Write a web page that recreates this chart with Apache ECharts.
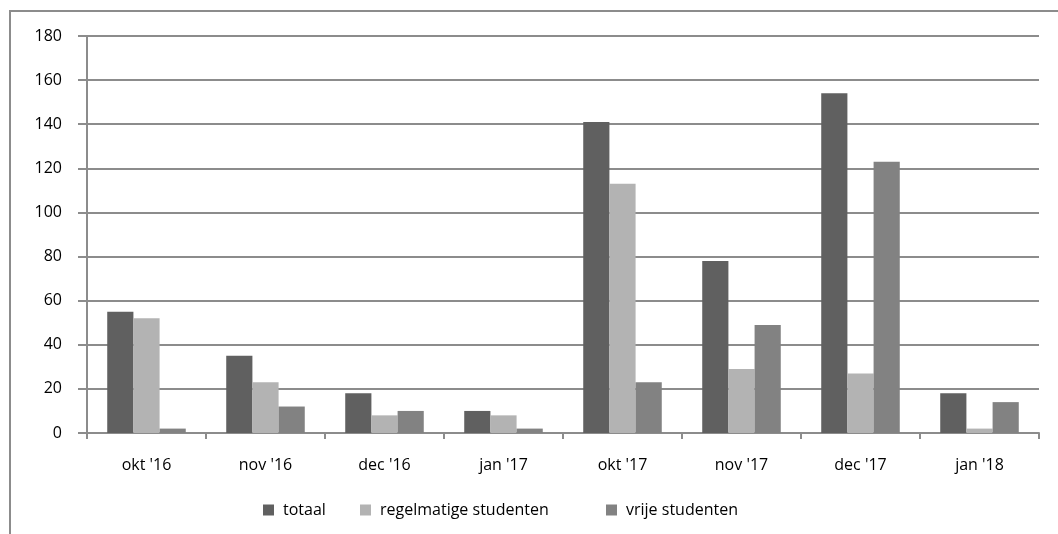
<!DOCTYPE html>
<html>
<head>
<meta charset="utf-8">
<script src="https://cdn.jsdelivr.net/npm/echarts@6/dist/echarts.min.js"></script>
<style>
html,body{margin:0;padding:0;background:#fff;}
#c{width:1058px;height:534px;}
</style>
</head>
<body>
<div id="c"></div>
<script>
const categories = ["okt '16", "nov '16", "dec '16", "jan '17", "okt '17", "nov '17", "dec '17", "jan '18"];
const totaal = [55, 35, 18, 10, 141, 78, 154, 18];
const regelmatig = [52, 23, 8, 8, 113, 29, 27, 2];
const vrij = [2, 12, 10, 2, 23, 49, 123, 14];
const seriesNames = ["totaal", "regelmatige studenten", "vrije studenten"];
const yTicks = {min: 0, max: 180, interval: 20};

const chart = echarts.init(document.getElementById('c'), null, {renderer: 'canvas'});
const font = "'Open Sans', sans-serif";
const gridColor = '#8c8c8c';
const legendLefts = [258, 355, 601];
const legendBase = {
  top: 497,
  itemWidth: 11,
  itemHeight: 11,
  icon: 'rect',
  textStyle: {fontFamily: font, fontSize: 16, color: '#000', padding: [0, 0, 0, 4]}
};
chart.setOption({
  animation: false,
  backgroundColor: '#fff',
  graphic: [{
    type: 'rect',
    shape: {x: 10, y: 11, width: 1100, height: 600},
    style: {fill: 'none', stroke: '#8c8c8c', lineWidth: 2},
    silent: true
  }],
  grid: {left: 87, right: 19, top: 36, bottom: 101, containLabel: false},
  legend: seriesNames.map((n, i) => Object.assign({}, legendBase, {left: legendLefts[i], data: [n]})),
  xAxis: {
    type: 'category',
    data: categories,
    axisLine: {lineStyle: {color: gridColor, width: 2}},
    axisTick: {show: true, length: 6, lineStyle: {color: gridColor, width: 2}},
    axisLabel: {fontFamily: font, fontSize: 16, color: '#000', margin: 24}
  },
  yAxis: {
    type: 'value',
    min: yTicks.min, max: yTicks.max, interval: yTicks.interval,
    axisLine: {show: true, lineStyle: {color: gridColor, width: 2}},
    axisTick: {show: true, length: 9, lineStyle: {color: gridColor, width: 2}},
    axisLabel: {fontFamily: font, fontSize: 16, color: '#000', margin: 25},
    splitLine: {lineStyle: {color: gridColor, width: 2}}
  },
  series: [
    {name: seriesNames[0], type: 'bar', data: totaal, itemStyle: {color: '#606060'}, barGap: '0%', barCategoryGap: '34%'},
    {name: seriesNames[1], type: 'bar', data: regelmatig, itemStyle: {color: '#b3b3b3'}},
    {name: seriesNames[2], type: 'bar', data: vrij, itemStyle: {color: '#828282'}}
  ]
});
</script>
</body>
</html>
